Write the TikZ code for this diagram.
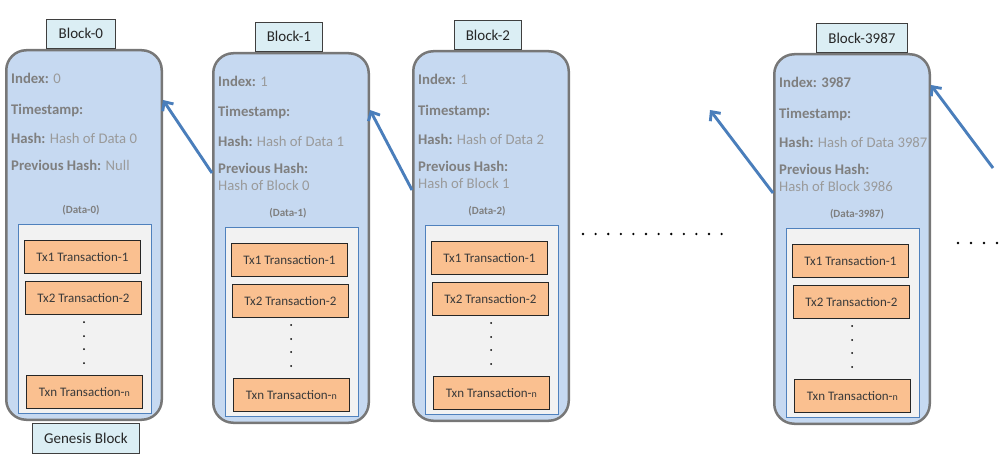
\documentclass[tikz,border=0pt]{standalone}
\usepackage{fontspec}
\setmainfont{Carlito}
\usetikzlibrary{arrows.meta,calc}
\definecolor{blockblue}{HTML}{C6D9F1}
\definecolor{blockedge}{HTML}{777777}
\definecolor{tagcyan}{HTML}{DBEEF4}
\definecolor{tagedge}{HTML}{3F3F3F}
\definecolor{datagray}{HTML}{F2F2F2}
\definecolor{dataedge}{HTML}{4F81BD}
\definecolor{txorange}{HTML}{FAC090}
\definecolor{txedge}{HTML}{262626}
\definecolor{txtext}{HTML}{3A3A3A}
\definecolor{keygray}{HTML}{7F7F7F}
\definecolor{valgray}{HTML}{9A9A9A}
\definecolor{linkblue}{HTML}{4A7EBB}
\newcommand{\fkey}[1]{{\bfseries\color{keygray}#1}}
\tikzset{
  blockbody/.style={draw=blockedge, line width=2.5pt, fill=blockblue, rounded corners=20pt,
    minimum width=155.5pt, minimum height=369.5pt, inner sep=0pt, anchor=north west},
  tagbox/.style={draw=tagedge, line width=0.8pt, fill=tagcyan, minimum height=29pt, inner sep=0pt,
    font=\fontsize{15}{18}\selectfont, text=black!85},
  databox/.style={draw=dataedge, line width=0.9pt, fill=datagray, minimum width=133pt,
    minimum height=189pt, inner sep=0pt, anchor=north west},
  txbox/.style={draw=txedge, line width=0.9pt, fill=txorange, minimum width=116pt, minimum height=33pt,
    inner sep=0pt, anchor=north west, font=\fontsize{13}{15}\selectfont, text=txtext},
  field/.style={anchor=base west, inner sep=0pt, font=\fontsize{14.7}{18}\selectfont, text=valgray},
  datatag/.style={anchor=base, inner sep=0pt, font=\bfseries\fontsize{11}{13}\selectfont, text=keygray},
  chainarrow/.style={draw=linkblue, line width=2.9pt, -{Straight Barb[length=7pt,width=13pt]}}
}
\begin{document}
\begin{tikzpicture}[x=1pt, y=-1pt]
\useasboundingbox (0,0) rectangle (1000,468);
% the four blocks
\foreach \nm/\x/\y/\idx/\hsh/\prv/\prvb/\dat/\dx in {
  b0/5/49/0/0/Null//0/76,
  b1/212/52/1/1//Hash of Block 0/1/76,
  b2/412/50/1/2//Hash of Block 1/2/75,
  b3987/773/53/{\fkey{3987}}/3987//Hash of Block 3986/3987/84}{
  \node[blockbody] (\nm) at (\x,\y) {};
  \node[field] at (\x+6,\y+35) {\fkey{Index:} \idx};
  \node[field] at (\x+6,\y+65) {\fkey{Timestamp:}};
  \node[field] at (\x+6,\y+94) {\fkey{Hash:} Hash of Data \hsh};
  \node[field] at (\x+6,\y+121) {\fkey{Previous Hash:} \prv};
  \node[field] at (\x+6,\y+138) {\prvb};
  \node[datatag] at (\x+\dx,\y+164) {(Data-\dat)};
  \node[databox] (\nm-data) at (\x+13,\y+175) {};
  \node[txbox] (\nm-tx1) at (\x+19,\y+191) {Tx1 Transaction-1};
  \node[txbox] (\nm-tx2) at (\x+20,\y+232) {Tx2 Transaction-2};
  \node[txbox] (\nm-txn) at (\x+21,\y+326) {Txn Transaction-{\fontsize{10}{12}\selectfont n}};
  \foreach \d in {273,287,300,314}
    \fill (\x+79,\y+\d) circle (1pt);
}
% tags
\node[tagbox, anchor=south west, minimum width=69pt] (b0-tag) at (46,48.5) {Block-0};
\node[tagbox, anchor=south west, minimum width=67pt] (b1-tag) at (255,51.5) {Block-1};
\node[tagbox, anchor=south west, minimum width=67pt] (b2-tag) at (454,50) {Block-2};
\node[tagbox, anchor=south west, minimum width=91pt] (b3987-tag) at (816,53) {Block-3987};
\node[tagbox, anchor=north west, minimum width=107pt, minimum height=30pt] (genesis) at (32,423) {Genesis Block};
% links
\coordinate (gap-end) at (710,110);
\coordinate (next-start) at (993,168);
\draw[chainarrow] ($(b1.north west)+(0,121)$) -- ($(b0.north east)+(0,51)$);
\draw[chainarrow] ($(b2.north west)+(0,140)$) -- ($(b1.north east)+(0,58)$);
\draw[chainarrow] ($(b3987.north west)+(0,140)$) -- (gap-end);
\draw[chainarrow] (next-start) -- ($(b3987.north east)+(0,32)$);
% ellipses
\foreach \i in {0,...,11}
  \fill (583+\i*12.6,234) circle (1.3pt);
\foreach \i in {0,...,3}
  \fill (958+\i*13,243) circle (1.3pt);
\end{tikzpicture}
\end{document}
